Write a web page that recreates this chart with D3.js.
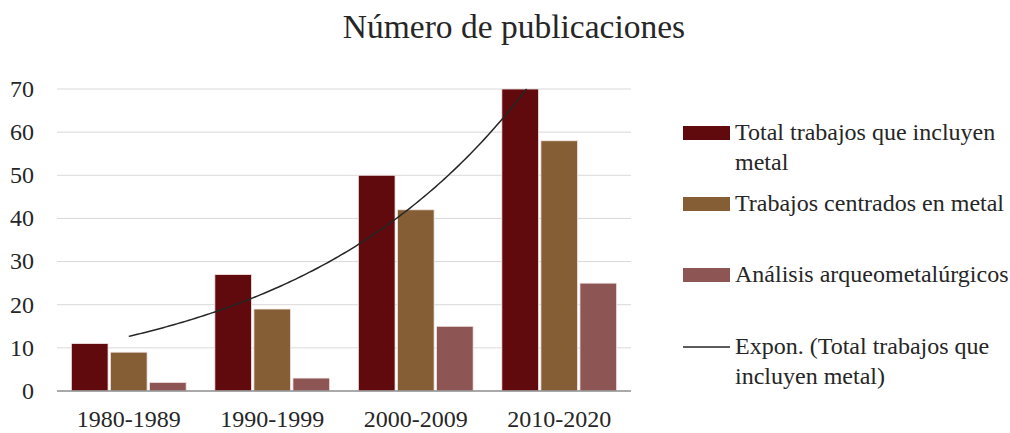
<!DOCTYPE html>
<html>
<head>
<meta charset="utf-8">
<script src="https://cdn.jsdelivr.net/npm/d3@7"></script>
<style>
  body { margin: 0; background: #fff; }
  svg { display: block; font-family: "Liberation Serif", "Times New Roman", serif; }
</style>
</head>
<body>
<script>
var categories = ["1980-1989", "1990-1999", "2000-2009", "2010-2020"];
var seriesNames = ["Total trabajos que incluyen metal", "Trabajos centrados en metal", "Análisis arqueometalúrgicos"];
var totalValues = [11, 27, 50, 70];
var centradosValues = [9, 19, 42, 58];
var analisisValues = [2, 3, 15, 25];
var yTicks = [0, 10, 20, 30, 40, 50, 60, 70];
var colors = ["#600a0d", "#855e36", "#8d5655"];

var width = 1010,
    height = 433;
var margin = { left: 57, right: 379, top: 89, bottom: 42 };
var plotW = width - margin.left - margin.right,
    plotH = height - margin.top - margin.bottom;

var svg = d3.select("body").append("svg")
    .attr("width", width)
    .attr("height", height);

svg.append("text")
    .attr("x", 514)
    .attr("y", 38)
    .attr("text-anchor", "middle")
    .style("font-size", "33.5px")
    .style("fill", "#262626")
    .text("Número de publicaciones");

var g = svg.append("g")
    .attr("transform", "translate(" + margin.left + "," + margin.top + ")");

var x0 = d3.scaleBand().domain(categories).range([0, plotW]);
var bw = x0.bandwidth();
var x1 = d3.scaleBand().domain(d3.range(3))
    .range([bw * 0.1, bw * 0.9])
    .paddingInner(0.06);
var y = d3.scaleLinear().domain([0, 70]).range([plotH, 0]);

// gridlines
g.selectAll(".grid")
    .data(yTicks.slice(1))
    .enter().append("line")
    .attr("x1", 0).attr("x2", plotW)
    .attr("y1", function (d) { return y(d); })
    .attr("y2", function (d) { return y(d); })
    .style("stroke", "#d9d9d9")
    .style("stroke-width", 1);

// y tick labels
g.selectAll(".ylab")
    .data(yTicks)
    .enter().append("text")
    .attr("x", -23)
    .attr("y", function (d) { return y(d); })
    .attr("dy", "0.33em")
    .attr("text-anchor", "end")
    .style("font-size", "24px")
    .style("fill", "#262626")
    .text(function (d) { return d; });

var rows = categories.map(function (c, i) {
    return { cat: c, vals: [totalValues[i], centradosValues[i], analisisValues[i]] };
});

var grp = g.selectAll(".cat")
    .data(rows)
    .enter().append("g")
    .attr("transform", function (d) { return "translate(" + x0(d.cat) + ",0)"; });

grp.selectAll("rect")
    .data(function (d) { return d.vals; })
    .enter().append("rect")
    .attr("x", function (d, i) { return x1(i); })
    .attr("width", x1.bandwidth())
    .attr("y", function (d) { return y(d); })
    .attr("height", function (d) { return plotH - y(d); })
    .style("fill", function (d, i) { return colors[i]; })
    .style("stroke", "#f3e8e8")
    .style("stroke-width", 0.8);

// baseline
g.append("line")
    .attr("x1", 0).attr("x2", plotW)
    .attr("y1", plotH).attr("y2", plotH)
    .style("stroke", "#8c8c8c")
    .style("stroke-width", 1.5);

// x labels
g.selectAll(".xlab")
    .data(categories)
    .enter().append("text")
    .attr("x", function (d) { return x0(d) + bw / 2; })
    .attr("y", plotH + 36)
    .attr("text-anchor", "middle")
    .style("font-size", "24px")
    .style("fill", "#262626")
    .text(function (d) { return d; });

// exponential trendline on total (least squares on ln y), clipped to plot
var lx = totalValues.map(function (d, i) { return i + 1; });
var ly = totalValues.map(function (d) { return Math.log(d); });
var mx = d3.mean(lx), my = d3.mean(ly);
var b = d3.sum(lx, function (d, i) { return (d - mx) * (ly[i] - my); }) /
        d3.sum(lx, function (d) { return (d - mx) * (d - mx); });
var a = my - b * mx;
var xEnd = Math.min(4, (Math.log(70) - a) / b);
var trend = d3.range(1, xEnd, 0.02).concat([xEnd]).map(function (t) {
    return [x0(categories[0]) + bw / 2 + (t - 1) * bw, y(Math.exp(a + b * t))];
});
g.append("path")
    .attr("d", d3.line()(trend))
    .style("fill", "none")
    .style("stroke", "#262626")
    .style("stroke-width", 1.5);

// legend
var legend = svg.append("g");
var legItems = [
    { lines: ["Total trabajos que incluyen", "metal"], y: 133, type: "rect", color: colors[0] },
    { lines: ["Trabajos centrados en metal"], y: 204, type: "rect", color: colors[1] },
    { lines: ["Análisis arqueometalúrgicos"], y: 275, type: "rect", color: colors[2] },
    { lines: ["Expon. (Total trabajos que", "incluyen metal)"], y: 347, type: "line", color: "#262626" }
];
legItems.forEach(function (it) {
    if (it.type === "rect") {
        legend.append("rect")
            .attr("x", 683).attr("y", it.y - 7)
            .attr("width", 47).attr("height", 14)
            .style("fill", it.color);
    } else {
        legend.append("line")
            .attr("x1", 683).attr("x2", 730)
            .attr("y1", it.y).attr("y2", it.y)
            .style("stroke", it.color)
            .style("stroke-width", 1.5);
    }
    var t = legend.append("text")
        .attr("x", 735)
        .attr("y", it.y + 7)
        .style("font-size", "24px")
        .style("fill", "#262626");
    it.lines.forEach(function (l, k) {
        t.append("tspan").attr("x", 735).attr("dy", k === 0 ? 0 : 29.5).text(l);
    });
});
</script>
</body>
</html>
